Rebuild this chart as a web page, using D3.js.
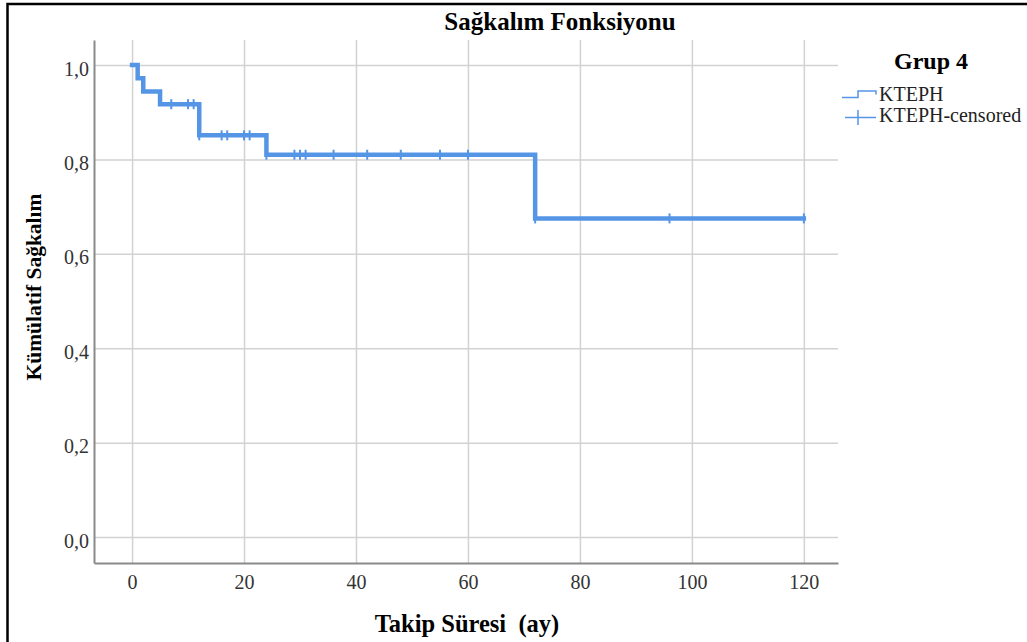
<!DOCTYPE html>
<html>
<head>
<meta charset="utf-8">
<script src="https://cdn.jsdelivr.net/npm/d3@7"></script>
<style>
  body { margin: 0; background: #fff; }
  text { font-family: "Liberation Serif", "Times New Roman", serif; }
</style>
</head>
<body>
<div id="chart"></div>
<script>
// Kaplan-Meier step values
const eventTimes = [0, 1, 2, 5, 12, 24, 72, 120];
const survival = [1.0, 0.972, 0.944, 0.917, 0.851, 0.810, 0.675, 0.675];
const censorTimes = [7, 10, 11, 12, 16, 17, 20, 21, 24, 29, 30, 31, 36, 42, 48, 55, 60, 72, 96, 120];

const xTicks = [0, 20, 40, 60, 80, 100, 120];
const yTicks = [0, 0.2, 0.4, 0.6, 0.8, 1.0];
const legendLabels = ["KTEPH", "KTEPH-censored"];

const width = 1027;
const height = 642;
const lineColor = "#5595e6";

const svg = d3.select("#chart")
    .append("svg")
    .attr("width", width)
    .attr("height", height);

// frame (only top and left edges visible)
svg.append("path")
    .attr("d", "M7.5,642V4H1027")
    .attr("fill", "none")
    .attr("stroke", "#000")
    .attr("stroke-width", 2.5);

const plotLeft = 94, plotRight = 838, plotTop = 40, plotBottom = 563;

const x = d3.scaleLinear().domain([-6.8, 126.1]).range([plotLeft, plotRight]);
const y = d3.scaleLinear().domain([-0.055, 1.053]).range([plotBottom, plotTop]);

const fmt = d => d3.format(".1f")(d).replace(".", ",");

const xAxis = svg.append("g")
    .attr("transform", `translate(0,${plotBottom})`)
    .call(d3.axisBottom(x).tickValues(xTicks).tickSizeInner(-(plotBottom - plotTop)).tickSizeOuter(0).tickPadding(12));

const yAxis = svg.append("g")
    .attr("transform", `translate(${plotLeft},0)`)
    .call(d3.axisLeft(y).tickValues(yTicks).tickFormat(fmt).tickSizeInner(-(plotRight - plotLeft)).tickSizeOuter(0).tickPadding(5));

[xAxis, yAxis].forEach(g => {
    g.selectAll(".tick line").attr("stroke", "#d2d2d2").attr("stroke-width", 1.5);
    g.selectAll(".tick text")
        .attr("fill", "#333")
        .style("font-family", "'Liberation Serif', serif")
        .style("font-size", "20px");
    g.select(".domain").attr("stroke", "#8a8a8a").attr("stroke-width", 2).raise();
});
yAxis.selectAll(".tick text").attr("dy", "0.5em");

// survival curve
const points = eventTimes.map((t, i) => [t, survival[i]]);
const line = d3.line()
    .x(d => x(d[0]))
    .y(d => y(d[1]))
    .curve(d3.curveStepAfter);

svg.append("path")
    .datum(points)
    .attr("d", line)
    .attr("fill", "none")
    .attr("stroke", lineColor)
    .attr("stroke-width", 4.5)
    .attr("stroke-linejoin", "miter")
    .attr("stroke-linecap", "square");

function survAt(t) {
    let s = 1;
    eventTimes.forEach((et, i) => { if (et <= t) s = survival[i]; });
    return s;
}

svg.append("g")
    .selectAll("line")
    .data(censorTimes)
    .join("line")
    .attr("x1", d => x(d))
    .attr("x2", d => x(d))
    .attr("y1", d => y(survAt(d)) - 5)
    .attr("y2", d => y(survAt(d)) + 5)
    .attr("stroke", lineColor)
    .attr("stroke-width", 2);

// titles
svg.append("text")
    .attr("x", 560)
    .attr("y", 30)
    .attr("text-anchor", "middle")
    .style("font-size", "25px")
    .style("font-weight", "bold")
    .text("Sağkalım Fonksiyonu");

svg.append("text")
    .attr("x", 467)
    .attr("y", 632)
    .attr("text-anchor", "middle")
    .style("font-size", "24.5px")
    .style("font-weight", "bold")
    .style("white-space", "pre")
    .text("Takip Süresi  (ay)");

svg.append("text")
    .attr("transform", "translate(41,287) rotate(-90)")
    .attr("text-anchor", "middle")
    .style("font-size", "21.5px")
    .style("font-weight", "bold")
    .text("Kümülatif Sağkalım");

// legend
svg.append("text")
    .attr("x", 931)
    .attr("y", 69)
    .attr("text-anchor", "middle")
    .style("font-size", "24px")
    .style("font-weight", "bold")
    .text("Grup 4");

const legend = svg.append("g");
legend.append("path")
    .attr("d", "M842,97.5H858V91H876V94.5")
    .attr("fill", "none")
    .attr("stroke", lineColor)
    .attr("stroke-width", 1.5);
legend.append("path")
    .attr("d", "M845,117.5H876M858,110V125")
    .attr("fill", "none")
    .attr("stroke", lineColor)
    .attr("stroke-width", 1.5);

legend.selectAll("text.lab")
    .data(legendLabels)
    .join("text")
    .attr("class", "lab")
    .attr("x", 879)
    .attr("y", (d, i) => 101 + i * 21)
    .attr("fill", "#222")
    .style("font-size", "20px")
    .text(d => d);
</script>
</body>
</html>
